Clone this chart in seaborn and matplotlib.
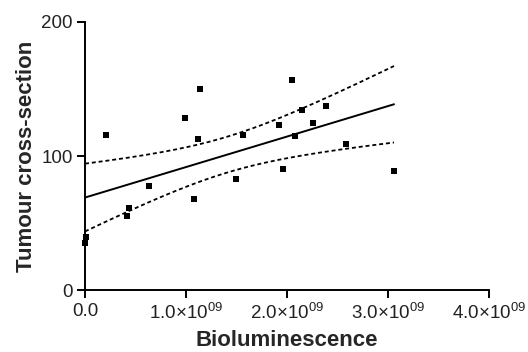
import numpy as np
import pandas as pd
import matplotlib
matplotlib.use("Agg")
import matplotlib.pyplot as plt
import seaborn as sns
from matplotlib.ticker import FuncFormatter, FixedLocator

bioluminescence = [0.00e9, 0.01e9, 0.21e9, 0.42e9, 0.44e9, 0.63e9, 0.99e9, 1.14e9,
                   1.12e9, 1.08e9, 1.50e9, 1.56e9, 1.92e9, 2.05e9, 2.15e9, 2.08e9,
                   2.26e9, 2.39e9, 2.58e9, 1.96e9, 3.06e9]
tumour = [35, 39.5, 116, 55, 61, 78, 128, 150,
          113, 68, 83, 116, 123, 157, 134, 115,
          125, 137, 109, 90, 89]
x_ticks = [0, 1e9, 2e9, 3e9, 4e9]
y_ticks = [0, 100, 200]

df = pd.DataFrame({"x": bioluminescence, "y": tumour})

sns.set_style("ticks")
plt.rcParams["font.family"] = ["Liberation Sans", "DejaVu Sans"]
plt.rcParams["mathtext.default"] = "regular"

fig = plt.figure(figsize=(5.28, 3.52), dpi=100)
ax = fig.add_axes([0.161, 0.176, 0.765, 0.7615])

# linear fit with 95% confidence band
x = np.asarray(bioluminescence)
y = np.asarray(tumour)
n = len(x)
slope, intercept = np.polyfit(x, y, 1)
xs = np.linspace(x.min(), x.max(), 200)
yhat = intercept + slope * xs
resid = y - (intercept + slope * x)
s = np.sqrt(np.sum(resid ** 2) / (n - 2))
sxx = np.sum((x - x.mean()) ** 2)
t = 2.093  # t(0.975, df=19)
se = s * np.sqrt(1.0 / n + (xs - x.mean()) ** 2 / sxx)
fit = pd.DataFrame({"x": xs, "fit": yhat, "lo": yhat - t * se, "hi": yhat + t * se})

sns.lineplot(data=fit, x="x", y="fit", ax=ax, color="black", lw=1.4)
sns.lineplot(data=fit, x="x", y="lo", ax=ax, color="black", lw=1.3, linestyle=(0, (2.2, 1.6)))
sns.lineplot(data=fit, x="x", y="hi", ax=ax, color="black", lw=1.3, linestyle=(0, (2.2, 1.6)))
sns.scatterplot(data=df, x="x", y="y", ax=ax, marker="s", s=16, color="black",
                edgecolor="black", linewidth=0, zorder=5, clip_on=False)

ax.set_xlim(0, 4e9)
ax.set_ylim(0, 200)
ax.xaxis.set_major_locator(FixedLocator(x_ticks))
ax.yaxis.set_major_locator(FixedLocator(y_ticks))

def fmt(v, pos):
    if v == 0:
        return "0.0"
    return "%.1f×10$^{\\mathregular{09}}$" % (v / 1e9)

ax.xaxis.set_major_formatter(FuncFormatter(fmt))
sns.despine(ax=ax)
for sp in ("left", "bottom"):
    ax.spines[sp].set_linewidth(1.4)
    ax.spines[sp].set_color("black")
ax.tick_params(axis="both", direction="out", length=6, width=1.4, colors="black",
               labelsize=13.5, pad=3)
ax.tick_params(axis="both", labelcolor="#222222")
ax.set_xlabel("Bioluminescence", fontsize=16, fontweight="bold", labelpad=5)
ax.set_ylabel("Tumour cross-section", fontsize=16, fontweight="bold", labelpad=3)

fig.savefig("out.png", dpi=100)
